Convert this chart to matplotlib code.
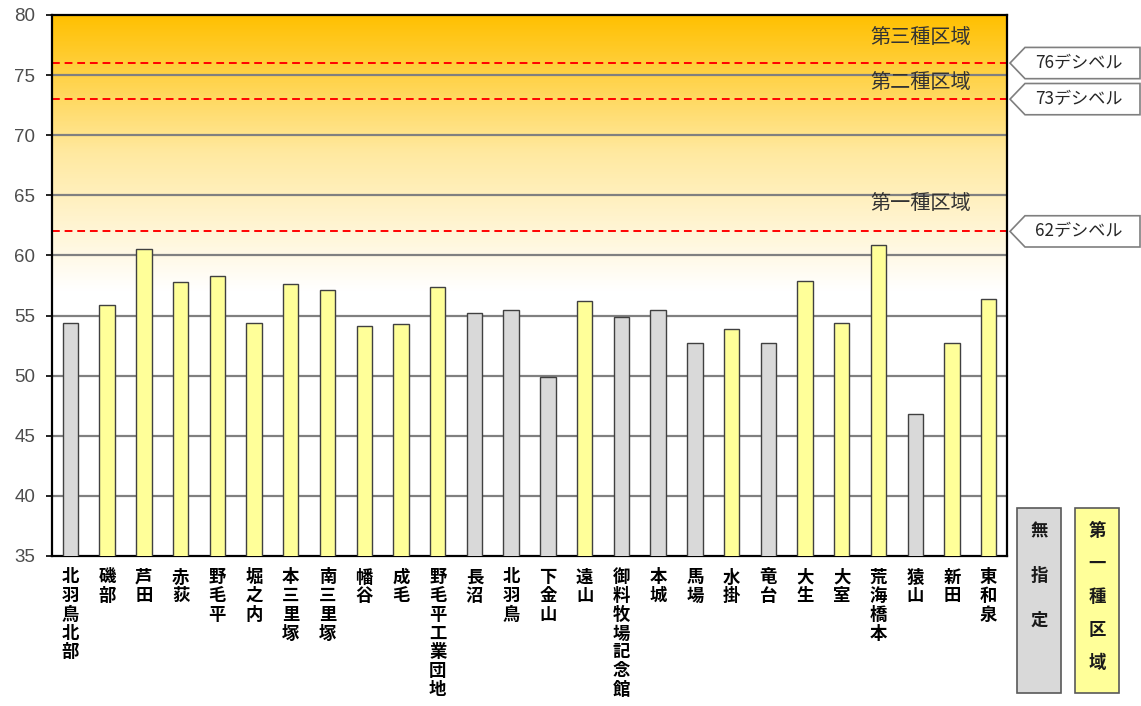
import numpy as np
import matplotlib.pyplot as plt
from matplotlib.colors import LinearSegmentedColormap
from matplotlib.patches import Polygon, Rectangle
import matplotlib.transforms as mtransforms

plt.rcParams['font.family'] = ['Noto Sans CJK JP', 'DejaVu Sans']

# 測定地点と騒音レベル (dB)
sites = ['北羽鳥北部', '磯部', '芦田', '赤荻', '野毛平', '堀之内', '本三里塚', '南三里塚',
         '幡谷', '成毛', '野毛平工業団地', '長沼', '北羽鳥', '下金山', '遠山', '御料牧場記念館',
         '本城', '馬場', '水掛', '竜台', '大生', '大室', '荒海橋本', '猿山', '新田', '東和泉']
levels = [54.4, 55.9, 60.5, 57.8, 58.3, 54.4, 57.6, 57.1,
          54.1, 54.3, 57.4, 55.2, 55.5, 49.9, 56.2, 54.9,
          55.5, 52.7, 53.9, 52.7, 57.9, 54.4, 60.9, 46.8, 52.7, 56.4]
# 0 = 無指定, 1 = 第一種区域
zone = [0, 1, 1, 1, 1, 1, 1, 1, 1, 1, 1, 0, 0, 0, 1, 0,
        0, 0, 1, 0, 1, 1, 1, 0, 1, 1]

limits = [76, 73, 62]
limit_labels = ['76デシベル', '73デシベル', '62デシベル']
region_names = ['第三種区域', '第二種区域', '第一種区域']
region_y = [78.1, 74.4, 64.3]

gray = '#d9d9d9'
yellow = '#ffff99'

fig = plt.figure(figsize=(11.41, 7.06), dpi=100)
ax = fig.add_axes([0.0456, 0.2125, 0.837, 0.7663])

x = np.arange(len(sites))
ax.set_xlim(-0.5, len(sites) - 0.5)
ax.set_ylim(35, 80)

# 背景のグラデーション (上が橙、下が白)
cmap = LinearSegmentedColormap.from_list('bg', ['#ffffff', '#ffe9a0', '#ffc000'])
grad = np.linspace(35, 80, 400).reshape(-1, 1)
grad = np.clip((grad - 57) / (80 - 57), 0, 1)
ax.imshow(grad, cmap=cmap, aspect='auto', origin='lower',
          extent=(-0.5, len(sites) - 0.5, 35, 80), zorder=0, vmin=0, vmax=1)

for v in range(40, 80, 5):
    ax.axhline(v, color='#808080', lw=1.6, zorder=1)

for lv in limits:
    ax.axhline(lv, color='#ff0000', lw=1.4, ls=(0, (4, 2.5)), zorder=2)

colors = [yellow if z else gray for z in zone]
ax.bar(x, levels, width=0.42, bottom=0, color=colors, edgecolor='#404040', lw=1.0, zorder=3)

for name, yv in zip(region_names, region_y):
    ax.text(23.15, yv, name, fontsize=14.5, ha='center', va='center', color='#333333', zorder=4)

ax.set_yticks(range(35, 81, 5))
ax.set_yticklabels([str(v) for v in range(35, 81, 5)], family='Liberation Sans',
                   fontsize=13.5, color='#4d4d4d')
ax.tick_params(axis='y', direction='out', length=4, width=1.2, pad=8)
ax.set_xticks(x)
ax.set_xticklabels(['\n'.join(s) for s in sites], fontsize=12.5, fontweight='bold',
                   linespacing=1.05, va='top')
ax.tick_params(axis='x', length=0, pad=9)
for sp in ax.spines.values():
    sp.set_linewidth(1.6)
    sp.set_color('black')

# 規制値の吹き出し
W, H = 1141, 706
trans = mtransforms.blended_transform_factory(fig.transFigure, ax.transData)
for lv, lab in zip(limits, limit_labels):
    h = 1.3
    pts = [(1010 / W, lv), (1025 / W, lv + h), (1140 / W, lv + h),
           (1140 / W, lv - h), (1025 / W, lv - h)]
    fig.patches.append(Polygon(pts, closed=True, transform=trans, facecolor='white',
                               edgecolor='#7f7f7f', lw=1.2))
    fig.text(1035 / W, lv, lab, transform=trans, fontsize=12.3, ha='left', va='center',
             color='#262626', zorder=5)

# 凡例
legend_items = [('無指定', gray, 1017, 45), ('第一種区域', yellow, 1075, 33)]
for label, col, px, step in legend_items:
    fig.patches.append(Rectangle((px / W, 1 - 693 / H), 44 / W, 185 / H,
                                 transform=fig.transFigure, facecolor=col,
                                 edgecolor='#595959', lw=1.2))
    for i, ch in enumerate(label):
        fig.text((px + 22) / W, 1 - (531 + i * step) / H, ch, fontsize=12.5,
                 fontweight='bold', ha='center', va='center', color='#1a1a1a', zorder=5)

fig.savefig('out.png', dpi=100)
